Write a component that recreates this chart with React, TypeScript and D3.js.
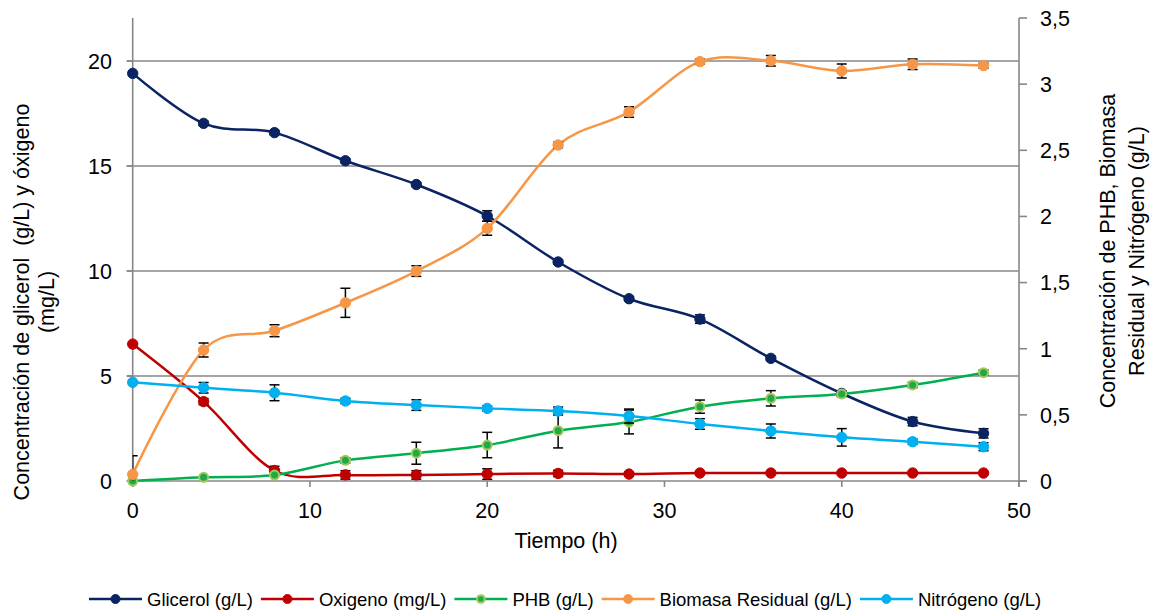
import React, { useEffect, useRef } from 'react';
import * as d3 from 'd3';

const tiempo = [0, 4, 8, 12, 16, 20, 24, 28, 32, 36, 40, 44, 48];
const glicerol = [19.41, 17.03, 16.59, 15.25, 14.12, 12.62, 10.43, 8.68, 7.71, 5.84, 4.17, 2.83, 2.27];
const glicerolErr = [0, 0.1, 0.1, 0.1, 0.1, 0.25, 0.1, 0.1, 0.2, 0.1, 0.1, 0.2, 0.22];
const oxigeno = [6.52, 3.78, 0.5, 0.29, 0.29, 0.33, 0.36, 0.33, 0.38, 0.38, 0.38, 0.38, 0.38];
const oxigenoErr = [0, 0.15, 0.2, 0.2, 0.2, 0.25, 0.15, 0.1, 0, 0, 0, 0, 0];
const phb = [0, 0.028, 0.045, 0.156, 0.21, 0.272, 0.38, 0.446, 0.562, 0.625, 0.658, 0.726, 0.819];
const phbErr = [0, 0, 0, 0.02, 0.083, 0.096, 0.13, 0.09, 0.05, 0.058, 0.02, 0.02, 0.02];
const biomasa = [0.05, 0.99, 1.136, 1.347, 1.587, 1.91, 2.54, 2.79, 3.17, 3.177, 3.1, 3.15, 3.14];
const biomasaErr = [0.14, 0.053, 0.045, 0.11, 0.04, 0.053, 0.02, 0.04, 0.02, 0.04, 0.053, 0.04, 0.02];
const nitrogeno = [0.746, 0.705, 0.667, 0.605, 0.574, 0.549, 0.529, 0.491, 0.431, 0.378, 0.33, 0.297, 0.259];
const nitrogenoErr = [0, 0.04, 0.06, 0.02, 0.04, 0.02, 0.03, 0.053, 0.04, 0.053, 0.066, 0.02, 0.03];

const xTicks = [0, 10, 20, 30, 40, 50];
const yLeftTicks = [0, 5, 10, 15, 20];
const yRightTicks = [0, 0.5, 1, 1.5, 2, 2.5, 3, 3.5];

const seriesNames = ['Glicerol (g/L)', 'Oxigeno (mg/L)', 'PHB (g/L)', 'Biomasa Residual (g/L)', 'Nitrógeno (g/L)'];

const FONT = '"Liberation Sans", Arial, sans-serif';

export default function App() {
  const ref = useRef<SVGSVGElement>(null);

  useEffect(() => {
    const svg = d3.select(ref.current);
    svg.selectAll('*').remove();

    const left = 132.7, right = 1019, bottom = 481, top = 18;
    const x = d3.scaleLinear().domain([0, 50]).range([left, right]);
    const yL = d3.scaleLinear().domain([0, 22]).range([bottom, bottom - 22 * 21.0]);
    const yR = d3.scaleLinear().domain([0, 3.5]).range([bottom, top]);
    const gridCol = '#878787';
    const fs = 21.5;

    svg.append('defs').append('clipPath').attr('id', 'plotclip')
      .append('rect').attr('x', left).attr('y', top).attr('width', right - left).attr('height', bottom - top);

    // gridlines
    yLeftTicks.filter(t => t > 0).forEach(t => {
      svg.append('line').attr('x1', left - 6).attr('x2', right).attr('y1', yL(t)).attr('y2', yL(t))
        .attr('stroke', gridCol).attr('stroke-width', 1.6);
    });
    // axes lines
    svg.append('line').attr('x1', left).attr('x2', left).attr('y1', top).attr('y2', bottom + 6)
      .attr('stroke', gridCol).attr('stroke-width', 1.6);
    svg.append('line').attr('x1', right).attr('x2', right).attr('y1', top).attr('y2', bottom + 6)
      .attr('stroke', gridCol).attr('stroke-width', 1.6);
    svg.append('line').attr('x1', left - 6).attr('x2', right + 8).attr('y1', bottom).attr('y2', bottom)
      .attr('stroke', gridCol).attr('stroke-width', 1.6);
    // x ticks
    xTicks.forEach(t => {
      svg.append('line').attr('x1', x(t)).attr('x2', x(t)).attr('y1', bottom).attr('y2', bottom + 6)
        .attr('stroke', gridCol).attr('stroke-width', 1.6);
      svg.append('text').attr('x', x(t)).attr('y', 518).attr('text-anchor', 'middle')
        .attr('font-family', FONT).attr('font-size', fs).attr('fill', '#000').text(String(t));
    });
    // left ticks
    yLeftTicks.forEach(t => {
      svg.append('line').attr('x1', left - 6).attr('x2', left).attr('y1', yL(t)).attr('y2', yL(t))
        .attr('stroke', gridCol).attr('stroke-width', 1.6);
      svg.append('text').attr('x', 112).attr('y', yL(t) + 7.8).attr('text-anchor', 'end')
        .attr('font-family', FONT).attr('font-size', fs).attr('fill', '#000').text(String(t));
    });
    // right ticks
    yRightTicks.forEach(t => {
      svg.append('line').attr('x1', right).attr('x2', right + 8).attr('y1', yR(t)).attr('y2', yR(t))
        .attr('stroke', gridCol).attr('stroke-width', 1.6);
      svg.append('text').attr('x', 1040).attr('y', yR(t) + 7.8).attr('text-anchor', 'start')
        .attr('font-family', FONT).attr('font-size', fs).attr('fill', '#000')
        .text(String(t).replace('.', ','));
    });

    // axis titles
    svg.append('text').attr('x', 566).attr('y', 548).attr('text-anchor', 'middle')
      .attr('font-family', FONT).attr('font-size', fs).text('Tiempo (h)');
    const lt = svg.append('text').attr('transform', 'translate(29,302) rotate(-90)').attr('text-anchor', 'middle')
      .attr('font-family', FONT).attr('font-size', fs).attr('xml:space', 'preserve');
    lt.append('tspan').attr('x', 0).attr('y', 0).text('Concentración de glicerol  (g/L) y óxigeno');
    lt.append('tspan').attr('x', 0).attr('y', 25).text('(mg/L)');
    const rt = svg.append('text').attr('transform', 'translate(1115,251) rotate(-90)').attr('text-anchor', 'middle')
      .attr('font-family', FONT).attr('font-size', fs);
    rt.append('tspan').attr('x', 0).attr('y', 0).text('Concentración de PHB, Biomasa');
    rt.append('tspan').attr('x', 0).attr('y', 29).text('Residual y Nitrógeno (g/L)');

    type S = { name: string; vals: number[]; err: number[]; y: d3.ScaleLinear<number, number>; line: string; fill: string; stroke: string; sw: number };
    const series: S[] = [
      { name: seriesNames[0], vals: glicerol, err: glicerolErr, y: yL, line: '#0A2463', fill: '#0A2463', stroke: '#0A2463', sw: 1 },
      { name: seriesNames[1], vals: oxigeno, err: oxigenoErr, y: yL, line: '#C00000', fill: '#C00000', stroke: '#C00000', sw: 1 },
      { name: seriesNames[2], vals: phb, err: phbErr, y: yR, line: '#00B050', fill: '#1DAA4B', stroke: '#A4C85A', sw: 2 },
      { name: seriesNames[3], vals: biomasa, err: biomasaErr, y: yR, line: '#F79646', fill: '#F79646', stroke: '#F79646', sw: 1 },
      { name: seriesNames[4], vals: nitrogeno, err: nitrogenoErr, y: yR, line: '#00B0F0', fill: '#00B0F0', stroke: '#00B0F0', sw: 1 },
    ];

    const plot = svg.append('g');
    series.forEach(s => {
      const g = plot.append('g');
      const lineGen = d3.line<number>().x((_, i) => x(tiempo[i])).y(v => s.y(v)).curve(d3.curveCardinal.tension(0));
      g.append('path').attr('d', lineGen(s.vals) as string).attr('fill', 'none')
        .attr('stroke', s.line).attr('stroke-width', 2.5);
      const eg = g.append('g').attr('clip-path', 'url(#plotclip)');
      s.vals.forEach((v, i) => {
        const e = s.err[i];
        if (!e) return;
        const cx = x(tiempo[i]);
        const y1 = s.y(v + e), y2 = s.y(v - e);
        eg.append('line').attr('x1', cx).attr('x2', cx).attr('y1', y1).attr('y2', y2).attr('stroke', '#000').attr('stroke-width', 1.5);
        eg.append('line').attr('x1', cx - 5).attr('x2', cx + 5).attr('y1', y1).attr('y2', y1).attr('stroke', '#000').attr('stroke-width', 1.5);
        eg.append('line').attr('x1', cx - 5).attr('x2', cx + 5).attr('y1', y2).attr('y2', y2).attr('stroke', '#000').attr('stroke-width', 1.5);
      });
      s.vals.forEach((v, i) => {
        g.append('circle').attr('cx', x(tiempo[i])).attr('cy', s.y(v)).attr('r', s.sw > 1 ? 4.5 : 5.2)
          .attr('fill', s.fill).attr('stroke', s.stroke).attr('stroke-width', s.sw);
      });
    });

    // legend
    const lg = svg.append('g');
    const lineLen = 53, gapText = 5, gapItem = 8, ly = 599;
    const items: { g: any; w: number }[] = [];
    series.forEach(s => {
      const ig = lg.append('g');
      ig.append('line').attr('x1', 0).attr('x2', lineLen).attr('y1', ly).attr('y2', ly).attr('stroke', s.line).attr('stroke-width', 2.5);
      ig.append('circle').attr('cx', lineLen / 2).attr('cy', ly).attr('r', s.sw > 1 ? 3.8 : 4.5)
        .attr('fill', s.fill).attr('stroke', s.stroke).attr('stroke-width', s.sw);
      const t = ig.append('text').attr('x', lineLen + gapText).attr('y', ly + 6.5).attr('font-family', FONT)
        .attr('font-size', 18.5).text(s.name);
      const tw = (t.node() as SVGTextElement).getComputedTextLength();
      items.push({ g: ig, w: lineLen + gapText + tw });
    });
    let cx = 89;
    items.forEach(it => { it.g.attr('transform', `translate(${cx},0)`); cx += it.w + gapItem; });
  }, []);

  return (
    <svg ref={ref} width={1160} height={611} style={{ position: 'absolute', left: 0, top: 0, background: '#fff' }} />
  );
}
